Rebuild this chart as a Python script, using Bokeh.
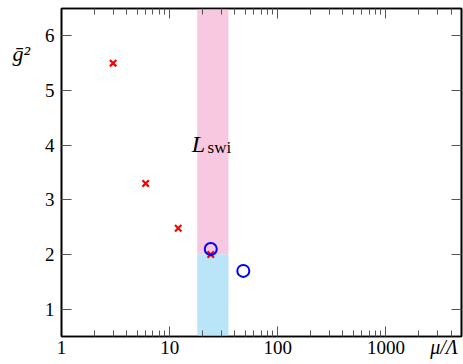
from bokeh.plotting import figure
from bokeh.models import LogAxis, LinearAxis, FixedTicker, Label
from bokeh.embed import file_html
from bokeh.resources import INLINE

# data
cross_x = [3, 6, 12, 24]
cross_y = [5.5, 3.3, 2.48, 2.0]
circ_x = [24, 48]
circ_y = [2.1, 1.7]
band_left = [18]
band_right = [35]
band_split = [2.0]
x_ticks = [1, 10, 100, 1000]
x_tick_labels = ["1", "10", "100", "1000"]
y_ticks = [1, 2, 3, 4, 5, 6]
x_title = "μ/Λ"
y_title = "ḡ²"

FONT = "Liberation Serif"
NBSP = "\u00a0"
minor = [m * d for d in (1, 10, 100, 1000) for m in range(2, 10) if m * d < 5000]

p = figure(frame_width=400, frame_height=328, x_axis_type="log",
           x_range=(1, 5000), y_range=(0.5, 6.5),
           output_backend="svg", toolbar_location=None,
           min_border_left=61, min_border_right=2, min_border_top=8, min_border_bottom=28)
p.grid.visible = False
p.outline_line_color = "black"
p.outline_line_width = 1.6
p.background_fill_color = "white"
p.border_fill_color = "white"

# bands
p.quad(left=band_left, right=band_right, bottom=band_split, top=[6.5],
       fill_color="#F8C8E0", line_color=None)
p.quad(left=band_left, right=band_right, bottom=[0.5], top=band_split,
       fill_color="#BAE4F8", line_color=None)

p.scatter(cross_x, cross_y, marker="x", size=9, line_color="red", line_width=2.2)
p.scatter(circ_x, circ_y, marker="circle", size=12, line_color="blue",
          fill_color=None, line_width=2)

xt = FixedTicker(ticks=x_ticks, minor_ticks=minor)
yt = FixedTicker(ticks=y_ticks, minor_ticks=[])

def style(ax, labels=True, standoff=4):
    ax.major_tick_in = 10
    ax.major_tick_out = 0
    ax.minor_tick_in = 6
    ax.minor_tick_out = 0
    ax.major_tick_line_color = "#555555"
    ax.minor_tick_line_color = "#555555"
    ax.axis_line_color = "black"
    ax.axis_line_width = 1.6
    ax.major_label_text_font = FONT
    ax.major_label_text_color = "black"
    if labels:
        ax.major_label_text_font_size = "19px"
        ax.major_label_standoff = standoff
    else:
        ax.major_label_text_font_size = "1px"
        ax.major_label_text_alpha = 0
        ax.major_label_standoff = 0

xa = p.xaxis[0]
xa.ticker = xt
xa.major_label_overrides = {t: l for t, l in zip(x_ticks, x_tick_labels)}
style(xa, standoff=4)
ya = p.yaxis[0]
ya.ticker = yt
style(ya, standoff=7)

# x title: anchored at the axis end, padded so it sits inside the canvas
xa.axis_label = x_title + NBSP * 7
xa.axis_label_text_font = FONT
xa.axis_label_text_font_size = "20px"
xa.axis_label_text_color = "black"
xa.axis_label_standoff = -21
xa.axis_label_align = "end"

# y title: horizontal, anchored at the top end, pushed down with empty lines
ya.axis_label = "\n\n\n" + y_title
ya.axis_label_text_font = FONT
ya.axis_label_text_font_size = "22px"
ya.axis_label_text_color = "black"
ya.axis_label_standoff = 12
ya.axis_label_orientation = "horizontal"
ya.axis_label_align = "end"

top = LogAxis(ticker=xt)
style(top, labels=False)
p.add_layout(top, "above")
right = LinearAxis(ticker=yt)
style(right, labels=False)
p.add_layout(right, "right")

def lab(x, y, text, size, italic=False):
    p.add_layout(Label(x=x, y=y, text=text,
                       text_font=FONT, text_font_style="italic" if italic else "normal",
                       text_font_size=size, text_color="black",
                       text_align="left", text_baseline="alphabetic"))

lab(16.0, 4.02, "L", "24px", True)
lab(22.4, 3.96, "swi", "17px")

open("out.html", "w").write(file_html(p, INLINE))
